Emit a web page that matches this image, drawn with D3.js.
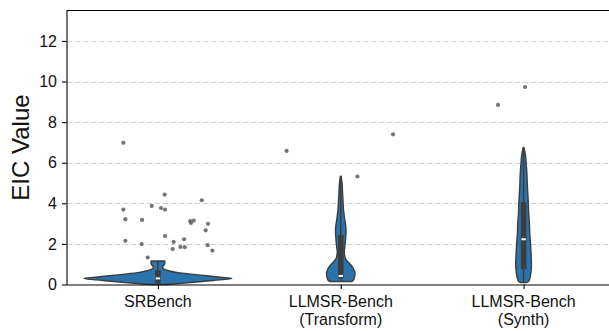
<!DOCTYPE html>
<html>
<head>
<meta charset="utf-8">
<script src="https://cdn.jsdelivr.net/npm/d3@7/dist/d3.min.js"></script>
<style>
  body { margin: 0; background: #fff; }
  text { font-family: "Liberation Sans", Arial, sans-serif; fill: #111; }
</style>
</head>
<body>
<div id="chart-area"></div>
<script>
// categories (x positions 0, 1, 2)
var categoryLabels = [["SRBench"], ["LLMSR-Bench", "(Transform)"], ["LLMSR-Bench", "(Synth)"]];
var yTicks = [0, 2, 4, 6, 8, 10, 12];

// violin outlines: [EIC value, half width in category units]
var srbenchDensity = [[0, 0.044], [0.04, 0.098], [0.1, 0.18], [0.2, 0.301], [0.3, 0.405], [0.38, 0.317],
    [0.46, 0.235], [0.57, 0.12], [0.65, 0.071], [0.72, 0.044], [0.8, 0.027], [0.87, 0.025],
    [0.95, 0.033], [1.05, 0.038], [1.16, 0.037]];
var transformDensity = [[0.15, 0.06], [0.2, 0.068], [0.35, 0.075], [0.55, 0.078], [0.75, 0.071],
    [0.95, 0.057], [1.1, 0.041], [1.25, 0.027], [1.45, 0.021], [1.6, 0.019], [1.9, 0.023],
    [2.2, 0.026], [2.6, 0.029], [2.9, 0.027], [3.2, 0.022], [3.6, 0.016], [4.0, 0.013],
    [4.5, 0.01], [5.0, 0.007], [5.33, 0.002]];
var synthDensity = [[0.09, 0.016], [0.15, 0.027], [0.3, 0.034], [0.6, 0.04], [1.0, 0.043], [1.5, 0.041],
    [2.0, 0.038], [2.5, 0.034], [3.0, 0.032], [3.5, 0.028], [4.0, 0.026], [4.5, 0.023],
    [5.0, 0.02], [5.5, 0.018], [6.0, 0.014], [6.4, 0.01], [6.75, 0.002]];

// inner box: [whisker low, q1, median, q3, whisker high]
var srbenchBox = [0, 0.08, 0.3, 0.7, 1.16];
var transformBox = [0.15, 0.3, 0.42, 2.43, 5.33];
var synthBox = [0.09, 0.75, 2.23, 4.05, 6.75];

// strip points: [x in category units, EIC value]
var srbenchPoints = [[-0.189, 6.98], [-0.189, 3.69], [-0.178, 3.22], [-0.178, 2.15], [-0.087, 3.18],
    [-0.089, 1.99], [-0.056, 1.33], [-0.034, 3.87], [0.017, 3.77], [0.039, 3.69], [0.037, 4.43],
    [0.039, 2.39], [0.086, 2.10], [0.081, 1.75], [0.123, 1.85], [0.143, 2.23], [0.147, 1.84],
    [0.177, 3.12], [0.181, 3.03], [0.196, 3.15], [0.240, 4.15], [0.274, 2.99], [0.261, 2.67],
    [0.272, 1.94], [0.298, 1.67]];
var transformPoints = [[0.704, 6.58], [1.091, 5.32], [1.286, 7.40]];
var synthPoints = [[1.860, 8.85], [2.008, 9.73]];

var violins = [
    { pos: 0, density: srbenchDensity, box: srbenchBox },
    { pos: 1, density: transformDensity, box: transformBox },
    { pos: 2, density: synthDensity, box: synthBox }
];
var points = srbenchPoints.concat(transformPoints, synthPoints);

var W = 609, H = 331;
var plotLeft = 66.5, plotTop = 10.5, plotBottom = 284.5, plotRight = 615;

var svg = d3.select("#chart-area")
    .append("svg")
    .attr("width", W)
    .attr("height", H);

var x = d3.scaleLinear().domain([-0.5, 2.5]).range([plotLeft, plotRight]);
var y = d3.scaleLinear().domain([0, 13.5]).range([plotBottom, plotTop]);

// grid
svg.append("g")
    .selectAll("line")
    .data(yTicks.filter(d => d > 0))
    .enter()
    .append("line")
    .attr("x1", plotLeft).attr("x2", W)
    .attr("y1", d => Math.round(y(d)) + 0.5)
    .attr("y2", d => Math.round(y(d)) + 0.5)
    .attr("stroke", "#d4d4d4")
    .attr("stroke-width", 1)
    .attr("stroke-dasharray", "5.5,2.5");

// violins
var area = d3.area()
    .curve(d3.curveMonotoneY)
    .y(d => y(d[0]));

var vg = svg.append("g").selectAll("g")
    .data(violins)
    .enter()
    .append("g");

vg.append("path")
    .attr("d", v => area
        .x0(d => x(v.pos - d[1]))
        .x1(d => x(v.pos + d[1]))(v.density))
    .attr("fill", "#2a73ac")
    .attr("stroke", "#3d3d3d")
    .attr("stroke-width", 1.4)
    .attr("stroke-linejoin", "round");

// whisker
vg.append("line")
    .attr("x1", v => x(v.pos)).attr("x2", v => x(v.pos))
    .attr("y1", v => y(v.box[0])).attr("y2", v => y(v.box[4]))
    .attr("stroke", "#3d3d3d")
    .attr("stroke-width", 1.5);

// iqr box
vg.append("rect")
    .attr("x", v => x(v.pos) - 2.8)
    .attr("width", 5.6)
    .attr("y", v => y(v.box[3]))
    .attr("height", v => y(v.box[1]) - y(v.box[3]))
    .attr("fill", "#3d3d3d");

// median
vg.append("rect")
    .attr("x", v => x(v.pos) - 2.2)
    .attr("width", 4.4)
    .attr("y", v => y(v.box[2]) - 1)
    .attr("height", 2)
    .attr("fill", "#fff");

// points
svg.append("g")
    .selectAll("circle")
    .data(points)
    .enter()
    .append("circle")
    .attr("cx", d => x(d[0]))
    .attr("cy", d => y(d[1]))
    .attr("r", 2.1)
    .attr("fill", "#666")
    .attr("fill-opacity", 0.9);

// axes
var yAxisGroup = svg.append("g")
    .attr("transform", "translate(" + plotLeft + ",0)")
    .call(d3.axisLeft(y).tickValues(yTicks).tickSize(4.5).tickSizeOuter(0).tickPadding(5));
yAxisGroup.selectAll("text").attr("font-size", "16px").attr("fill", "#111");

var xAxisGroup = svg.append("g")
    .attr("transform", "translate(0," + plotBottom + ")")
    .call(d3.axisBottom(x).tickValues([0, 1, 2]).tickSize(4.5).tickSizeOuter(0).tickFormat(""));

svg.selectAll(".domain").attr("stroke", "#000").attr("stroke-width", 1.1);
svg.selectAll(".tick line").attr("stroke", "#000").attr("stroke-width", 1.1);

// top spine
svg.append("line")
    .attr("x1", plotLeft).attr("x2", plotRight)
    .attr("y1", plotTop).attr("y2", plotTop)
    .attr("stroke", "#000")
    .attr("stroke-width", 1.1);

// x labels
var xl = svg.append("g").selectAll("text")
    .data(categoryLabels)
    .enter()
    .append("text")
    .attr("text-anchor", "middle")
    .attr("font-size", "16px")
    .attr("transform", (d, i) => "translate(" + x(i) + "," + 306.5 + ")");
xl.selectAll("tspan")
    .data(d => d)
    .enter()
    .append("tspan")
    .attr("x", 0)
    .attr("y", (d, i) => i * 18.5)
    .text(d => d);

// y label
svg.append("text")
    .attr("transform", "translate(28.5," + ((plotTop + plotBottom) / 2) + ") rotate(-90)")
    .attr("text-anchor", "middle")
    .attr("font-size", "24px")
    .text("EIC Value");
</script>
</body>
</html>
